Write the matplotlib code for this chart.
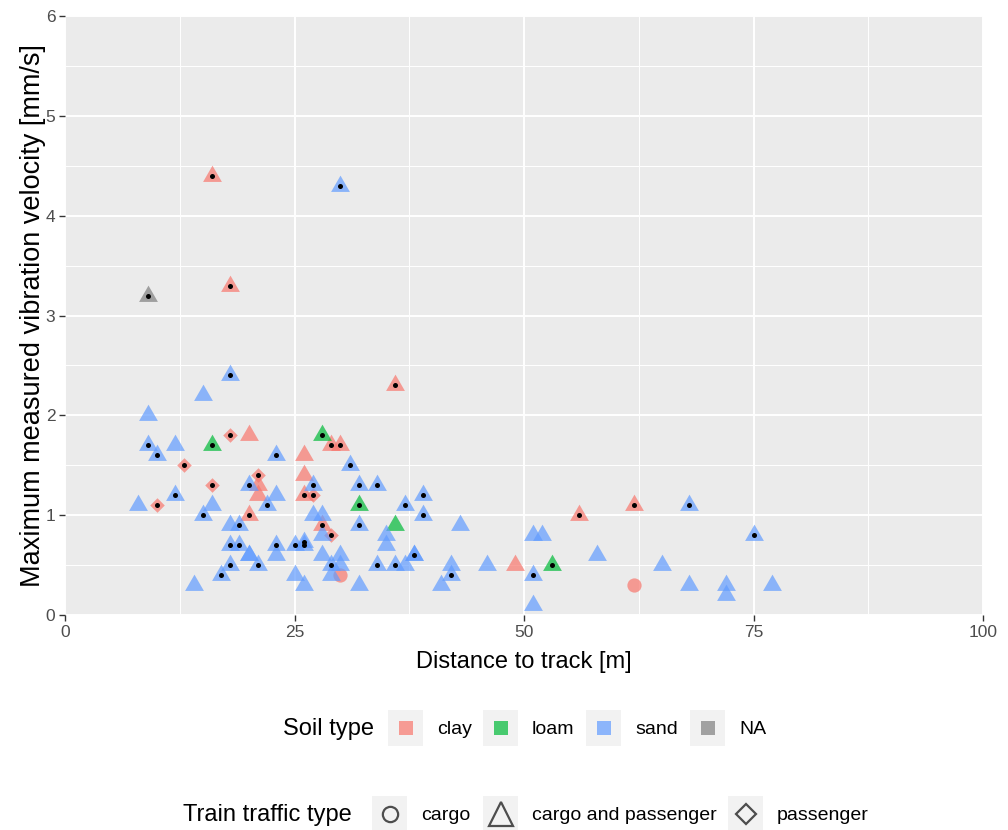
import numpy as np
import matplotlib
matplotlib.use("Agg")
import matplotlib.pyplot as plt
from matplotlib.lines import Line2D
from matplotlib.patches import Rectangle

plt.rcParams['font.family'] = ['Liberation Sans', 'DejaVu Sans']

# ----------------------------
# Data
# ----------------------------
distance = [16, 18, 36, 18, 20, 13, 16, 21, 21, 21, 10, 20, 26, 26, 29, 30, 26, 27, 28, 29,
            30, 49, 56, 62, 62,
            16, 28, 32, 36, 53,
            9,
            30, 18, 9, 15, 9, 10, 12, 23, 20, 23, 12, 8, 15, 16, 22, 19, 18, 18, 19, 20,
            20, 23, 23, 18, 21, 17, 14, 25, 26, 26, 25, 26, 31, 27, 32, 34, 37, 39, 39, 27,
            28, 28, 32, 35, 35, 38, 38, 28, 30, 30, 29, 29, 32, 34, 36, 37, 41, 42, 42, 43,
            46, 51, 52, 51, 51, 58, 68, 75, 65, 68, 72, 72, 77]
velocity = [4.4, 3.3, 2.3, 1.8, 1.8, 1.5, 1.3, 1.4, 1.3, 1.2, 1.1, 1.0, 1.6, 1.4, 1.7, 1.7, 1.2, 1.2, 0.9, 0.8,
            0.4, 0.5, 1.0, 1.1, 0.3,
            1.7, 1.8, 1.1, 0.9, 0.5,
            3.2,
            4.3, 2.4, 2.0, 2.2, 1.7, 1.6, 1.7, 1.6, 1.3, 1.2, 1.2, 1.1, 1.0, 1.1, 1.1, 0.9, 0.9, 0.7, 0.7, 0.6,
            0.6, 0.7, 0.6, 0.5, 0.5, 0.4, 0.3, 0.7, 0.73, 0.7, 0.4, 0.3, 1.5, 1.3, 1.3, 1.3, 1.1, 1.2, 1.0, 1.0,
            1.0, 0.8, 0.9, 0.8, 0.7, 0.6, 0.6, 0.6, 0.6, 0.5, 0.5, 0.4, 0.3, 0.5, 0.5, 0.5, 0.3, 0.4, 0.5, 0.9,
            0.5, 0.8, 0.8, 0.4, 0.1, 0.6, 1.1, 0.8, 0.5, 0.3, 0.3, 0.2, 0.3]
soil = (["clay"] * 25 + ["loam"] * 5 + ["NA"] + ["sand"] * 73)
traffic = (["cp", "cp", "cp", "p", "cp", "p", "p", "p", "cp", "cp", "p", "cp", "cp", "cp", "cp", "cp", "cp", "p", "cp", "p",
            "c", "cp", "cp", "cp", "c"]
           + ["cp"] * 5 + ["cp"] + ["cp"] * 73)
marked = [1, 1, 1, 1, 0, 1, 1, 1, 0, 0, 1, 1, 0, 0, 1, 1, 1, 1, 1, 1,
          0, 0, 1, 1, 0,
          1, 1, 1, 0, 1,
          1,
          1, 1, 0, 0, 1, 1, 0, 1, 1, 0, 1, 0, 1, 0, 1, 1, 0, 1, 1, 0,
          0, 1, 0, 1, 1, 1, 0, 1, 1, 1, 0, 0, 1, 1, 1, 1, 1, 1, 1, 0,
          0, 0, 1, 0, 0, 1, 0, 0, 0, 0, 1, 0, 0, 1, 1, 0, 0, 1, 0, 0,
          0, 0, 0, 1, 0, 0, 1, 1, 0, 0, 0, 0, 0]

soil_levels = ["clay", "loam", "sand", "NA"]
soil_colors = {"clay": "#F8766D", "loam": "#00BA38", "sand": "#619CFF", "NA": "#7F7F7F"}
traffic_levels = ["c", "cp", "p"]
traffic_labels = {"c": "cargo", "cp": "cargo and passenger", "p": "passenger"}

# equilateral triangle centred on its centroid
tri = [(-1, -0.577), (1, -0.577), (0, 1.155)]
shape_marker = {"c": "o", "cp": tri, "p": "D"}
shape_size = {"c": 105, "cp": 245, "p": 55}

x = np.array(distance, dtype=float)
y = np.array(velocity, dtype=float)
s_arr = np.array(soil)
t_arr = np.array(traffic)
m_arr = np.array(marked, dtype=bool)

W, H = 1008, 830
fig = plt.figure(figsize=(W / 100, H / 100), dpi=100)
ax = fig.add_axes([65 / W, 1 - 615 / H, 918 / W, 599 / H])
ax.set_facecolor("#EBEBEB")

for sl in soil_levels:
    for tl in traffic_levels:
        sel = (s_arr == sl) & (t_arr == tl)
        if sel.any():
            ax.scatter(x[sel], y[sel], s=shape_size[tl], marker=shape_marker[tl],
                       color=soil_colors[sl], alpha=0.7, linewidths=0, zorder=3)

ax.scatter(x[m_arr], y[m_arr], s=13, color="black", linewidths=0, zorder=4)

ax.set_xlim(0, 100)
ax.set_ylim(0, 6)
ax.set_xticks([0, 25, 50, 75, 100])
ax.set_yticks([0, 1, 2, 3, 4, 5, 6])
ax.set_xticks(np.arange(12.5, 100, 25), minor=True)
ax.set_yticks(np.arange(0.5, 6, 1), minor=True)
ax.grid(which="major", color="white", linewidth=1.4, zorder=0)
ax.grid(which="minor", color="white", linewidth=0.7, zorder=0)
ax.set_axisbelow(True)
for sp in ax.spines.values():
    sp.set_visible(False)
ax.tick_params(which="major", length=4, width=1, color="#333333", labelcolor="#4D4D4D",
               labelsize=12.5, pad=3)
ax.tick_params(which="minor", length=0)
ax.set_xlabel("Distance to track [m]", fontsize=17, labelpad=8)
ax.set_ylabel("Maximum measured vibration velocity [mm/s]", fontsize=19.5, labelpad=0)


# ----------------------------
# Legends (drawn in pixel positions)
# ----------------------------
def fx(px):
    return px / W


def fy(py):
    return 1 - py / H


fig.text(fx(283), fy(729), "Soil type", fontsize=17, va="center", ha="left")
soil_box_x = [388, 483, 586, 690]
for sl, bx in zip(soil_levels, soil_box_x):
    fig.add_artist(Rectangle((fx(bx), fy(746)), 35 / W, 36 / H, transform=fig.transFigure,
                             facecolor="#F2F2F2", edgecolor="none"))
    fig.add_artist(Rectangle((fx(bx + 11), fy(735)), 14 / W, 14 / H, transform=fig.transFigure,
                             facecolor=soil_colors[sl], alpha=0.7, edgecolor="none"))
    fig.text(fx(bx + 49), fy(729), sl, fontsize=14, va="center", ha="left")

fig.text(fx(183), fy(815), "Train traffic type", fontsize=17, va="center", ha="left")
traffic_box_x = [372, 483, 728]
legend_marker = {"c": ("o", 11), "cp": ("^", 17), "p": ("D", 10)}
for tl, bx in zip(traffic_levels, traffic_box_x):
    fig.add_artist(Rectangle((fx(bx), fy(832)), 35 / W, 36 / H, transform=fig.transFigure,
                             facecolor="#F2F2F2", edgecolor="none"))
    mk, ms = legend_marker[tl]
    fig.add_artist(Line2D([fx(bx + 17.5)], [fy(814)], marker=mk, markersize=ms,
                          markerfacecolor="none", markeredgecolor="#4D4D4D",
                          markeredgewidth=1.6, linestyle="none", transform=fig.transFigure))
    fig.text(fx(bx + 49), fy(815), traffic_labels[tl], fontsize=14, va="center", ha="left")

fig.savefig("out.png", dpi=100)
